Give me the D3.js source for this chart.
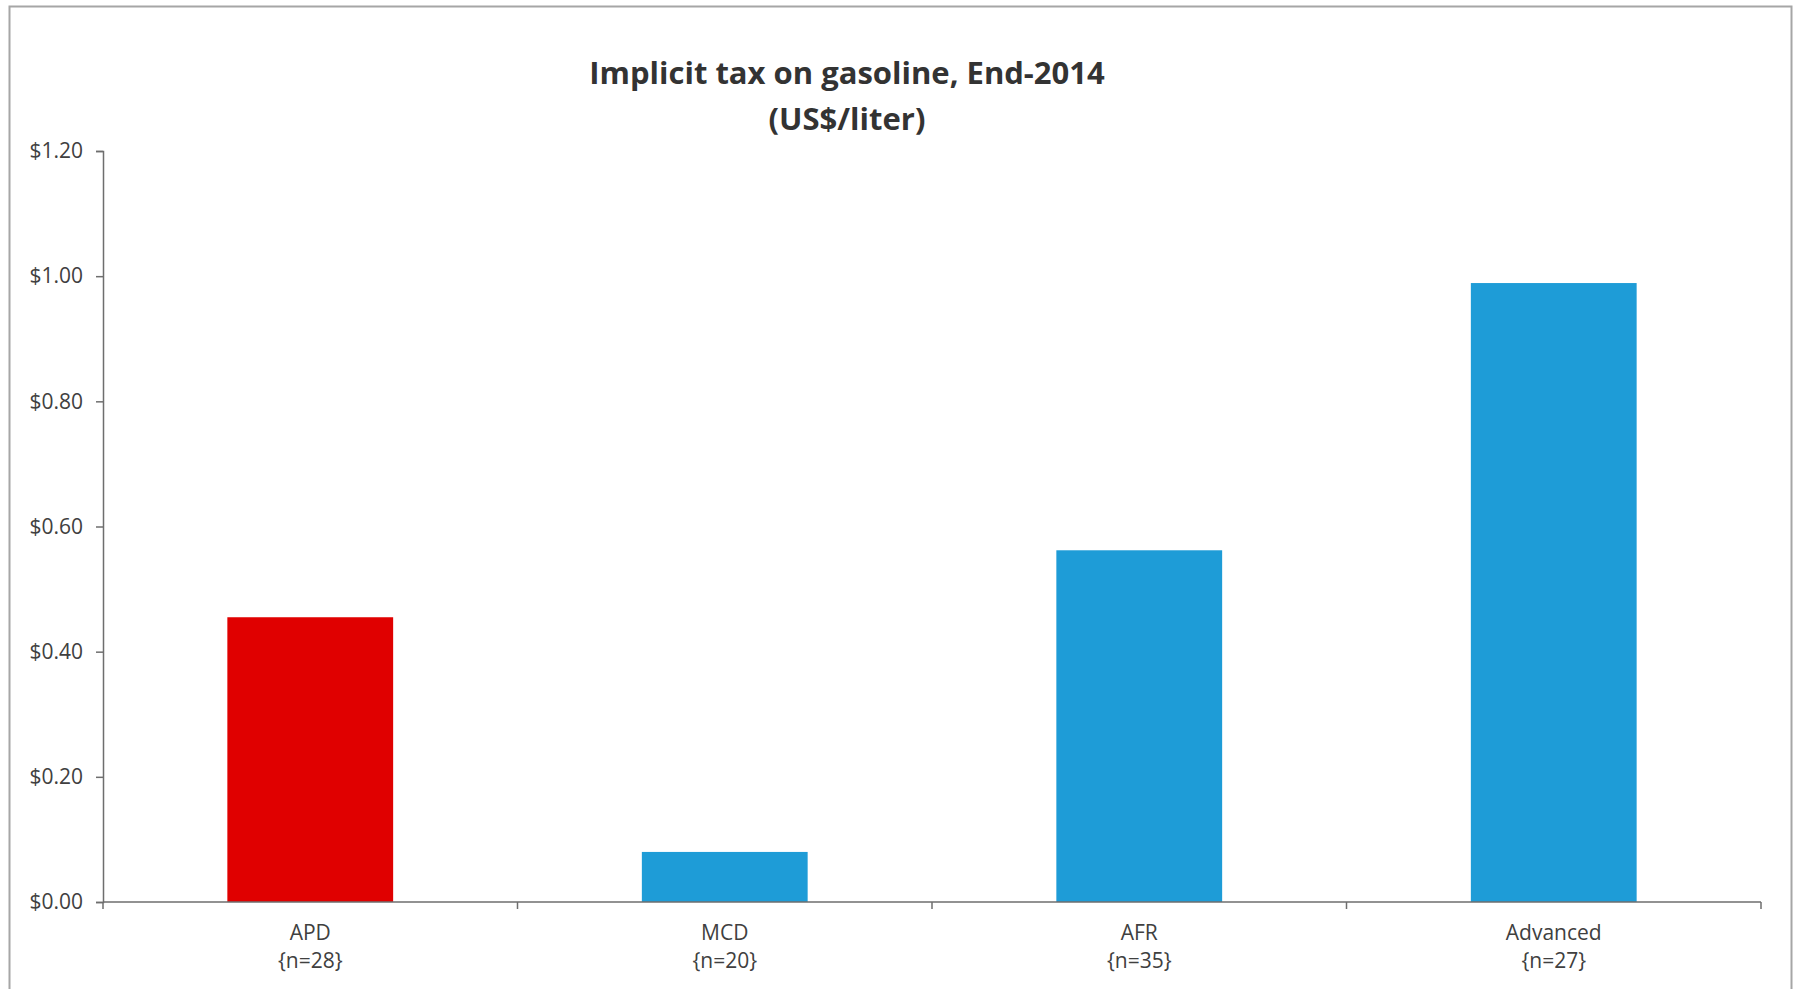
<!DOCTYPE html>
<html>
<head>
<meta charset="utf-8">
<script src="https://cdn.jsdelivr.net/npm/d3@7"></script>
<style>
  body { margin: 0; background: #fff; }
  svg text { font-family: "Open Sans", "Noto Sans", sans-serif; fill: #404040; }
  .axis path, .axis line { stroke: #6e6e6e; stroke-width: 1.5; }
  .title { font-weight: bold; fill: #333; }
</style>
</head>
<body>
<div id="chart"></div>
<script>
var chartTitle = ['Implicit tax on gasoline, End-2014', '(US$/liter)']
var regions = ['APD', 'MCD', 'AFR', 'Advanced']
var counts = ['{n=28}', '{n=20}', '{n=35}', '{n=27}']
var taxValues = [0.455, 0.080, 0.562, 0.989]
var barColors = ['#e00000', '#1e9cd7', '#1e9cd7', '#1e9cd7']
var yTicks = [0, 0.2, 0.4, 0.6, 0.8, 1.0, 1.2]

var W = 1795, H = 989
var margin = {top: 151, left: 103, right: 34, bottom: 87}
var width = W - margin.left - margin.right,
    height = H - margin.top - margin.bottom

var svg = d3.select('#chart').append('svg')
    .attr('width', W)
    .attr('height', H)

// chart border
svg.append('rect')
    .attr('x', 9.5).attr('y', 6.5)
    .attr('width', 1782).attr('height', 1000)
    .attr('fill', 'none')
    .attr('stroke', '#a6a6a6')
    .attr('stroke-width', 2)

var g = svg.append('g')
    .attr('transform', 'translate(' + margin.left + ',' + margin.top + ')')

var xScale = d3.scaleBand()
    .domain(regions)
    .range([0, width])
    .paddingInner(0.6)
    .paddingOuter(0.3)

var yScale = d3.scaleLinear()
    .domain([0, 1.2])
    .range([height, 0])

// bars
g.selectAll('.bar')
    .data(regions)
    .enter()
    .append('rect')
    .attr('class', 'bar')
    .attr('x', function(d) { return xScale(d) })
    .attr('y', function(d, i) { return yScale(taxValues[i]) })
    .attr('width', xScale.bandwidth())
    .attr('height', function(d, i) { return height - yScale(taxValues[i]) })
    .attr('fill', function(d, i) { return barColors[i] })

// y axis
var yAxis = d3.axisLeft(yScale)
    .tickValues(yTicks)
    .tickSize(7)
    .tickPadding(13)
    .tickFormat(d3.format('$.2f'))
g.append('g')
    .attr('class', 'y axis')
    .call(yAxis)
    .selectAll('text')
    .style('font-size', '21px')

// x axis: ticks at band edges
var step = xScale.step()
var edges = d3.range(regions.length + 1).map(function(i) { return i * step })
var xAxisG = g.append('g')
    .attr('class', 'x axis')
    .attr('transform', 'translate(0,' + height + ')')
xAxisG.append('line')
    .attr('x1', 0).attr('x2', width)
    .attr('y1', 0).attr('y2', 0)
xAxisG.selectAll('.tick')
    .data(edges)
    .enter()
    .append('line')
    .attr('x1', function(d) { return d }).attr('x2', function(d) { return d })
    .attr('y1', 0).attr('y2', 7)

var labels = xAxisG.selectAll('.lab')
    .data(regions)
    .enter()
    .append('text')
    .attr('class', 'lab')
    .attr('x', function(d) { return xScale(d) + xScale.bandwidth() / 2 })
    .attr('text-anchor', 'middle')
    .style('font-size', '21px')
labels.append('tspan')
    .attr('x', function(d) { return xScale(d) + xScale.bandwidth() / 2 })
    .attr('y', 38)
    .text(function(d) { return d })
labels.append('tspan')
    .attr('x', function(d) { return xScale(d) + xScale.bandwidth() / 2 })
    .attr('y', 66)
    .text(function(d, i) { return counts[i] })

// title
svg.selectAll('.title')
    .data(chartTitle)
    .enter()
    .append('text')
    .attr('class', 'title')
    .attr('x', 847)
    .attr('y', function(d, i) { return 84 + i * 46 })
    .attr('text-anchor', 'middle')
    .style('font-size', '31px')
    .text(function(d) { return d })
</script>
</body>
</html>
